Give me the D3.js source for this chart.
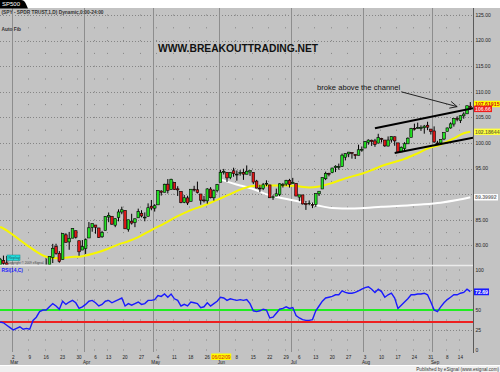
<!DOCTYPE html>
<html>
<head>
<meta charset="utf-8">
<script src="https://cdn.jsdelivr.net/npm/d3@7"></script>
<style>
  html, body { margin: 0; padding: 0; background: #fff; }
  svg { display: block; font-family: "Liberation Sans", Arial, sans-serif; }
</style>
</head>
<body>
<div id="chart"></div>
<script>
// trading days shown (2009)
const days = [
  "02-24","02-25","02-26","02-27",
  "03-02","03-03","03-04","03-05","03-06","03-09","03-10","03-11","03-12","03-13",
  "03-16","03-17","03-18","03-19","03-20","03-23","03-24","03-25","03-26","03-27",
  "03-30","03-31","04-01","04-02","04-03","04-06","04-07","04-08","04-09",
  "04-13","04-14","04-15","04-16","04-17","04-20","04-21","04-22","04-23","04-24",
  "04-27","04-28","04-29","04-30","05-01","05-04","05-05","05-06","05-07","05-08",
  "05-11","05-12","05-13","05-14","05-15","05-18","05-19","05-20","05-21","05-22",
  "05-26","05-27","05-28","05-29","06-01","06-02","06-03","06-04","06-05",
  "06-08","06-09","06-10","06-11","06-12","06-15","06-16","06-17","06-18","06-19",
  "06-22","06-23","06-24","06-25","06-26","06-29","06-30","07-01","07-02",
  "07-06","07-07","07-08","07-09","07-10","07-13","07-14","07-15","07-16","07-17",
  "07-20","07-21","07-22","07-23","07-24","07-27","07-28","07-29","07-30","07-31",
  "08-03","08-04","08-05","08-06","08-07","08-10","08-11","08-12","08-13","08-14",
  "08-17","08-18","08-19","08-20","08-21","08-24","08-25","08-26","08-27","08-28",
  "08-31","09-01","09-02","09-03","09-04","09-08","09-09","09-10","09-11",
  "09-14","09-15","09-16","09-17"
];

const open = [
  74.33,77.06,76.58,74.99,
  72.96,70.44,69.86,70.83,68.40,68.08,67.93,71.96,72.09,75.20,
  75.88,75.39,77.60,79.79,78.46,77.23,82.06,80.68,81.41,82.87,
  80.91,79.09,79.36,81.45,83.51,83.98,83.41,81.68,82.93,
  85.53,85.69,83.94,85.45,86.52,86.83,83.13,84.73,84.46,85.39,
  86.28,85.45,85.69,87.66,87.27,87.92,90.61,90.38,91.96,90.90,
  92.30,91.05,90.54,88.42,89.28,88.61,90.97,90.86,90.04,88.87,
  88.70,91.00,89.30,90.70,92.33,94.29,94.25,93.25,94.57,
  93.81,94.04,94.27,93.90,94.34,94.25,92.56,91.19,91.09,92.00,
  91.81,89.35,89.63,89.95,91.88,91.99,92.72,92.08,92.12,
  89.43,89.86,88.19,88.13,88.00,87.96,90.08,91.02,93.02,94.06,
  94.21,95.20,95.34,95.41,97.22,97.86,98.15,97.77,97.60,98.68,
  99.02,100.14,100.54,100.41,99.98,100.89,100.58,99.40,100.59,101.22,
  100.02,98.26,98.89,99.84,101.11,102.86,102.86,102.94,102.98,103.47,
  102.72,102.35,100.01,100.01,100.78,102.27,102.94,103.70,104.79,
  104.42,105.30,105.70,107.19
];
const high = [
  77.55,78.01,77.94,75.13,
  72.96,71.17,72.41,70.83,69.91,69.53,71.96,73.19,75.26,75.83,
  77.45,77.81,80.30,80.32,78.89,82.34,82.37,82.63,83.30,82.87,
  80.91,81.05,81.36,84.56,84.25,83.98,83.41,82.84,85.69,
  86.43,85.69,85.29,87.04,87.56,86.83,85.01,86.18,85.29,87.18,
  86.88,86.45,88.21,88.87,88.05,90.79,90.77,92.03,92.96,93.02,
  92.30,91.56,90.54,89.84,89.70,91.00,91.64,92.46,90.04,89.67,
  91.18,91.38,90.95,92.00,94.78,94.94,94.25,94.25,95.17,
  94.63,94.69,94.98,95.62,94.63,94.25,92.80,91.84,92.19,92.71,
  91.81,89.87,91.09,92.14,92.20,92.80,93.00,93.19,92.12,
  89.87,89.86,88.68,88.79,88.36,90.11,90.58,93.30,94.40,94.19,
  95.16,95.65,95.98,97.94,97.98,98.25,98.22,97.78,99.67,99.32,
  100.36,100.71,100.66,100.80,101.80,101.01,100.58,101.28,101.31,101.26,
  100.02,99.32,100.16,101.09,102.96,103.78,103.98,103.45,103.53,104.15,
  102.72,103.25,100.43,100.74,102.05,103.01,104.03,104.81,105.22,
  105.37,106.00,107.28,107.99
];
const low = [
  74.33,75.29,75.18,73.45,
  69.97,69.23,69.86,67.79,66.68,67.29,67.93,71.39,71.48,74.25,
  75.34,74.99,76.56,78.18,76.62,77.23,80.55,79.14,81.41,81.34,
  77.98,79.09,78.33,81.45,82.67,82.28,81.45,81.48,82.93,
  84.53,84.02,83.56,84.70,86.09,83.24,82.68,84.06,83.56,85.39,
  85.47,84.71,85.69,86.86,86.61,87.92,89.73,90.38,90.14,90.90,
  90.87,89.65,88.23,88.25,87.89,88.61,90.52,90.14,87.96,88.38,
  88.15,89.19,88.76,90.36,92.33,93.85,92.39,92.93,93.41,
  92.64,93.62,92.80,93.90,93.57,91.97,91.16,90.38,90.79,91.58,
  89.30,88.89,89.63,89.63,91.30,91.62,91.29,92.08,89.64,
  88.64,87.99,86.93,87.85,87.28,87.53,89.65,91.02,92.75,93.49,
  94.10,94.32,94.79,95.33,96.60,97.23,96.94,96.87,97.60,98.29,
  99.02,99.67,99.43,99.25,99.98,100.10,99.24,99.34,100.08,99.46,
  98.05,98.26,98.26,99.84,101.11,102.45,102.82,102.36,101.82,102.51,
  101.66,100.03,99.60,99.63,100.56,102.27,102.80,103.20,104.24,
  103.90,104.74,105.69,106.50
];
const close = [
  77.31,76.49,75.28,73.51,
  70.08,69.63,71.29,68.26,68.34,67.65,71.96,72.14,75.07,75.66,
  75.39,77.81,79.44,78.40,76.85,82.29,80.61,81.39,83.29,81.59,
  78.75,79.79,81.11,83.44,84.25,83.55,81.56,82.52,85.66,
  85.87,84.15,85.21,86.53,86.96,83.24,85.01,84.36,85.19,86.62,
  85.75,85.52,87.36,87.28,87.75,90.72,90.38,91.95,90.74,92.92,
  90.92,90.84,88.39,89.31,88.29,90.97,90.81,90.35,88.83,88.70,
  91.03,89.31,90.68,91.91,94.29,94.47,93.18,94.25,94.01,
  93.91,94.24,93.92,94.49,94.62,92.37,91.20,91.07,91.84,92.12,
  89.30,89.51,90.09,92.03,91.89,92.72,91.93,92.33,89.64,
  89.87,88.10,87.96,88.27,87.91,90.11,90.58,93.27,94.07,94.04,
  95.11,95.46,95.41,97.63,97.93,98.22,97.96,97.52,98.68,98.75,
  100.26,100.57,100.27,99.71,101.05,100.71,99.44,100.58,101.27,100.41,
  98.17,99.17,99.85,100.94,102.81,102.76,103.00,103.01,103.30,103.09,
  102.26,100.20,99.88,100.72,102.04,102.94,103.74,104.81,104.67,
  105.33,105.66,107.28,106.95
];

// RSI(14,C), one value per day
const rsi = [
  35,34,31,28,
  25,27,29,26,27,26,37,41,48,50,
  50,54,58,55,51,61,57,60,62,59,
  52,54,57,61,62,59,55,57,61,
  62,59,61,63,65,55,58,56,58,60,
  57,58,62,62,63,68,67,70,66,70,
  64,62,55,57,55,60,59,58,53,54,
  59,55,58,61,66,65,62,64,63,
  62,63,62,63,58,49,48,49,51,50,
  40,41,46,51,52,54,52,53,43,
  40,38,37,37,38,49,55,61,65,66,
  67,69,69,74,72,71,71,72,74,76,
  78,79,76,72,76,73,66,69,71,65,
  52,56,60,64,69,69,70,70,71,69,
  60,50,48,54,59,63,66,69,69,
  71,72,76,73
];

// moving averages
const maYellowDates = ["02-24","02-25","03-02","03-06","03-11","03-16","03-20","03-25","03-31",
  "04-06","04-13","04-16","04-21","04-24","04-30","05-06","05-12","05-18","05-22","05-29",
  "06-04","06-09","06-15","06-22","06-29","07-02","07-09","07-14","07-20","07-24","07-31",
  "08-05","08-10","08-14","08-19","08-25","08-28","09-03","09-10","09-15","09-17"];
const maYellowValues = [83.6,83.3,82.0,80.1,78.8,77.8,77.5,77.7,77.9,
  78.5,79.4,80.2,80.8,81.6,83.0,84.3,85.7,86.9,87.8,88.9,
  90.0,90.9,91.6,91.7,91.7,91.6,91.3,91.5,92.2,93.1,94.0,
  94.7,95.5,96.3,96.9,98.0,98.9,99.7,100.9,101.9,102.2];
const maWhiteDates = ["06-01","06-09","06-11","06-22","07-01","07-13","07-20","07-28",
  "08-03","08-10","08-18","08-26","09-03","09-11","09-17"];
const maWhiteValues = [92.9,91.7,91.4,89.8,88.8,87.9,87.3,87.2,
  87.3,87.55,87.75,88.0,88.35,88.85,89.4];

const priceTicks = [80, 85, 90, 95, 100, 105, 110, 115, 120, 125];
const rsiTicks = [0, 25, 50, 75, 100];
const rsiGreen = 50;
const rsiRed = 35;

// channel drawn by hand: [day, price] pairs, extended to the axis
const channelUpper = [["08-06", 102.87], ["09-17", 106.66]];
const channelLower = [["08-14", 98.05], ["09-17", 100.92]];
const arrowFrom = ["08-18", 110.0];
const arrowTo = ["09-11", 107.1];

// value tags on the right axis
const tagValues = [107.61915, 106.66, 102.18644, 89.39992];
const tagTexts = ["107.61915", "106.66", "102.18644", "89.39992"];
const rsiTag = 72.69;
const cursorDay = "06-02";

// ---- layout
const width = 500, height = 372;
const axisX = 473;
const priceTop = 8, priceBottom = 264.5;
const rsiTop = 266, rsiBottom = 352;

const svg = d3.select('#chart').append('svg')
  .attr('width', width)
  .attr('height', height);

const parse = d3.timeParse('%Y-%m-%d');
const dates = days.map(d => parse('2009-' + d));
const ix = d => days.indexOf(d);

const x = d3.scaleLinear().domain([0, days.length - 1]).range([0.15, 470.3]);
const step = x(1) - x(0);
const yP = d3.scaleLinear().domain([80, 125]).range([245.4, 15]);
const yR = d3.scaleLinear().domain([0, 100]).range([350, 270]);

// background
svg.append('rect').attr('width', width).attr('height', height).attr('fill', '#fff');
svg.append('rect').attr('x', 0).attr('y', priceTop).attr('width', width).attr('height', 365.5 - priceTop).attr('fill', '#c3c3c3');

// clips
const defs = svg.append('defs');
defs.append('clipPath').attr('id', 'clipP').append('rect')
  .attr('x', 0).attr('y', priceTop).attr('width', axisX).attr('height', priceBottom - priceTop);
defs.append('clipPath').attr('id', 'clipR').append('rect')
  .attr('x', 0).attr('y', rsiTop).attr('width', axisX).attr('height', rsiBottom - rsiTop);

// week and month starts
const weekStarts = [];
const monthStarts = [];
dates.forEach((d, i) => {
  if (i === 0) return;
  if (d.getDay() <= dates[i - 1].getDay()) weekStarts.push(i);
  if (d.getMonth() !== dates[i - 1].getMonth()) monthStarts.push(i);
});

const grid = svg.append('g');

// horizontal dotted grid
grid.selectAll('.hp')
  .data(priceTicks)
  .enter()
  .append('line')
  .attr('x1', 0).attr('x2', axisX)
  .attr('y1', d => Math.round(yP(d)) + 0.5).attr('y2', d => Math.round(yP(d)) + 0.5)
  .attr('stroke', '#858585').attr('stroke-dasharray', '1,2');

grid.selectAll('.hr')
  .data([25, 75])
  .enter()
  .append('line')
  .attr('x1', 0).attr('x2', axisX)
  .attr('y1', d => Math.round(yR(d)) + 0.5).attr('y2', d => Math.round(yR(d)) + 0.5)
  .attr('stroke', '#858585').attr('stroke-dasharray', '1,2');

// weekly dotted verticals
grid.selectAll('.vp')
  .data(weekStarts)
  .enter()
  .append('line')
  .attr('x1', i => Math.round(x(i) - step / 2) + 0.5)
  .attr('x2', i => Math.round(x(i) - step / 2) + 0.5)
  .attr('y1', yP(125) - 0.5).attr('y2', priceBottom)
  .attr('stroke', '#858585').attr('stroke-dasharray', '1,11.8');

grid.selectAll('.vr')
  .data(weekStarts)
  .enter()
  .append('line')
  .attr('x1', i => Math.round(x(i) - step / 2) + 0.5)
  .attr('x2', i => Math.round(x(i) - step / 2) + 0.5)
  .attr('y1', yR(100) - 0.5).attr('y2', rsiBottom)
  .attr('stroke', '#858585').attr('stroke-dasharray', '1,9');

// month lines
grid.selectAll('.mline')
  .data(monthStarts)
  .enter()
  .append('line')
  .attr('x1', i => Math.round(x(i) - step / 2) + 0.5)
  .attr('x2', i => Math.round(x(i) - step / 2) + 0.5)
  .attr('y1', priceTop).attr('y2', rsiBottom)
  .attr('stroke', '#8d8d8d').attr('stroke-width', 1);

// panel separator
svg.append('line')
  .attr('x1', 0).attr('x2', axisX).attr('y1', 265.5).attr('y2', 265.5)
  .attr('stroke', '#ebebeb').attr('stroke-width', 1.6);

// right axis line
svg.append('line')
  .attr('x1', axisX + 0.5).attr('x2', axisX + 0.5).attr('y1', priceTop).attr('y2', rsiBottom + 1)
  .attr('stroke', '#5a5a5a');

// ---- price panel
const pricePanel = svg.append('g').attr('clip-path', 'url(#clipP)');

const maLine = d3.line()
  .x(d => x(ix(d[0])))
  .y(d => yP(d[1]))
  .curve(d3.curveMonotoneX);

pricePanel.append('path')
  .datum(d3.zip(maWhiteDates, maWhiteValues))
  .attr('d', maLine)
  .attr('fill', 'none').attr('stroke', '#ffffff').attr('stroke-width', 2);

pricePanel.append('path')
  .datum(d3.zip(maYellowDates, maYellowValues))
  .attr('d', maLine)
  .attr('fill', 'none').attr('stroke', '#f6f600').attr('stroke-width', 2);

// candles
const candles = pricePanel.selectAll('.candle')
  .data(days.map((d, i) => i))
  .enter()
  .append('g')
  .attr('class', 'candle');

candles.append('line')
  .attr('x1', i => x(i)).attr('x2', i => x(i))
  .attr('y1', i => yP(high[i])).attr('y2', i => yP(low[i]))
  .attr('stroke', '#000').attr('stroke-width', 1);

candles.append('rect')
  .attr('x', i => x(i) - 1.3)
  .attr('width', 2.6)
  .attr('y', i => yP(Math.max(open[i], close[i])))
  .attr('height', i => Math.max(0.8, Math.abs(yP(open[i]) - yP(close[i]))))
  .attr('fill', i => close[i] >= open[i] ? '#22e022' : '#e01818')
  .attr('stroke', '#000').attr('stroke-width', 0.6);

// channel lines, extended to the axis
const extend = (pts) => {
  const x0 = x(ix(pts[0][0])), y0 = yP(pts[0][1]);
  const x1 = x(ix(pts[1][0])), y1 = yP(pts[1][1]);
  const s = (y1 - y0) / (x1 - x0);
  return [[x0, y0], [axisX, y0 + s * (axisX - x0)]];
};
[channelUpper, channelLower].forEach(c => {
  const p = extend(c);
  pricePanel.append('line')
    .attr('x1', p[0][0]).attr('y1', p[0][1]).attr('x2', p[1][0]).attr('y2', p[1][1])
    .attr('stroke', '#000').attr('stroke-width', 2);
});

// arrow and note
const ax0 = x(ix(arrowFrom[0])), ay0 = yP(arrowFrom[1]);
const ax1 = x(ix(arrowTo[0])), ay1 = yP(arrowTo[1]);
const ang = Math.atan2(ay1 - ay0, ax1 - ax0);
svg.append('line')
  .attr('x1', ax0).attr('y1', ay0).attr('x2', ax1).attr('y2', ay1)
  .attr('stroke', '#111').attr('stroke-width', 0.9);
[-0.45, 0.45].forEach(a => {
  svg.append('line')
    .attr('x1', ax1).attr('y1', ay1)
    .attr('x2', ax1 - 8 * Math.cos(ang + a)).attr('y2', ay1 - 8 * Math.sin(ang + a))
    .attr('stroke', '#111').attr('stroke-width', 0.9);
});
svg.append('text')
  .attr('x', ax0 - 1).attr('y', yP(110.35))
  .attr('text-anchor', 'end')
  .attr('font-size', 7.6).attr('fill', '#111')
  .text('broke above the channel');

// watermark
svg.append('text')
  .attr('x', 158).attr('y', 51.5)
  .attr('font-size', 10.3).attr('font-weight', 'bold').attr('fill', '#111')
  .text('WWW.BREAKOUTTRADING.NET');

// ---- RSI panel
const rsiPanel = svg.append('g').attr('clip-path', 'url(#clipR)');

rsiPanel.append('line')
  .attr('x1', 0).attr('x2', axisX).attr('y1', yR(rsiRed)).attr('y2', yR(rsiRed))
  .attr('stroke', '#ee2020').attr('stroke-width', 2);
rsiPanel.append('line')
  .attr('x1', 0).attr('x2', axisX).attr('y1', yR(rsiGreen)).attr('y2', yR(rsiGreen))
  .attr('stroke', '#20ee20').attr('stroke-width', 2);

rsiPanel.append('path')
  .datum(rsi)
  .attr('d', d3.line().x((d, i) => x(i)).y(d => yR(d)))
  .attr('fill', 'none').attr('stroke', '#1a1aff').attr('stroke-width', 1.4);

// ---- axes text (labels that sit under a value tag are left out, as on screen)
const axisText = svg.append('g').attr('font-size', 5).attr('fill', '#222');
const underTag = (py, tags) => tags.some(t => Math.abs(t - py) < 5.5);
const tagYs = tagValues.map(v => yP(v));

axisText.selectAll('.pl')
  .data(priceTicks.filter(d => !underTag(yP(d), tagYs)))
  .enter()
  .append('text')
  .attr('x', axisX + 2.5).attr('y', d => yP(d) + 1.8)
  .text(d => d3.format('.2f')(d));

axisText.selectAll('.rl')
  .data(rsiTicks.filter(d => !underTag(yR(d), [yR(rsiTag)])))
  .enter()
  .append('text')
  .attr('x', axisX + 2.5).attr('y', d => yR(d) + 1.8)
  .text(d => d);

const cx = x(ix(cursorDay)) - 2.5;

axisText.selectAll('.wl')
  .data(weekStarts.filter(i => x(i) > 5 && Math.abs(x(i) - cx) > 11))
  .enter()
  .append('text')
  .attr('x', i => x(i)).attr('y', 358.5)
  .attr('text-anchor', 'middle')
  .attr('font-size', 4.6)
  .text(i => dates[i].getDate());

axisText.selectAll('.ml')
  .data(monthStarts)
  .enter()
  .append('text')
  .attr('x', i => x(i) + 1).attr('y', 364.3)
  .attr('text-anchor', 'middle')
  .attr('font-size', 4.6)
  .text(i => d3.timeFormat('%b')(dates[i]));

// cursor date box
svg.append('rect')
  .attr('x', cx - 10).attr('y', 353.5).attr('width', 20).attr('height', 6.5)
  .attr('fill', '#ffff00');
svg.append('text')
  .attr('x', cx).attr('y', 358.6).attr('text-anchor', 'middle')
  .attr('font-size', 4.8).attr('fill', '#d01010')
  .text(d3.timeFormat('%m/%d/%y')(dates[ix(cursorDay)]));

// right value tags
const tagStyle = [
  { fill: '#ffff00', text: '#d01010', w: 26 },
  { fill: '#ee1c1c', text: '#ffd0d0', w: 18 },
  { fill: '#ffff40', text: '#777733', w: 26 },
  { fill: '#ffffff', text: '#777777', w: 24 }
];
tagValues.forEach((v, k) => {
  const ty = yP(v);
  svg.append('rect')
    .attr('x', axisX + 1).attr('y', ty - 3.2).attr('width', tagStyle[k].w).attr('height', 6.4)
    .attr('fill', tagStyle[k].fill);
  svg.append('text')
    .attr('x', axisX + 2).attr('y', ty + 1.9)
    .attr('font-size', 5.2).attr('font-weight', 'bold').attr('fill', tagStyle[k].text)
    .text(tagTexts[k]);
});
svg.append('rect')
  .attr('x', axisX + 1).attr('y', yR(rsiTag) - 3.4).attr('width', 15).attr('height', 6.8)
  .attr('fill', '#1a1aff');
svg.append('text')
  .attr('x', axisX + 2).attr('y', yR(rsiTag) + 1.9)
  .attr('font-size', 5.2).attr('font-weight', 'bold').attr('fill', '#fff')
  .text(rsiTag.toFixed(2));

// ---- header / labels
svg.append('path')
  .attr('d', 'M0,0 H21 Q24,0 25.5,3 L28,8.5 H0 Z')
  .attr('fill', '#000');
svg.append('text')
  .attr('x', 2).attr('y', 6.3)
  .attr('font-size', 6).attr('fill', '#fff')
  .text('SP500');

svg.append('text')
  .attr('x', 1.5).attr('y', 13.8)
  .attr('font-size', 4.8).attr('font-weight', 'bold').attr('fill', '#333')
  .text('(SPY - SPDR TRUST,1,D) Dynamic,0:00-24:00');

svg.append('text')
  .attr('x', 1.5).attr('y', 31)
  .attr('font-size', 4.8).attr('font-weight', 'bold').attr('fill', '#333')
  .text('Auto Fib');

svg.append('rect')
  .attr('x', 7).attr('y', 255).attr('width', 13).attr('height', 5.5)
  .attr('fill', '#22dddd').attr('stroke', '#118888').attr('stroke-width', 0.5);
svg.append('text')
  .attr('x', 8.5).attr('y', 259.3)
  .attr('font-size', 3.6).attr('fill', '#225555')
  .text('Replay');
svg.append('text')
  .attr('x', 7).attr('y', 264)
  .attr('font-size', 3.2).attr('fill', '#444')
  .text('Copyright \u00a9 2009 eSignal.');

svg.append('text')
  .attr('x', 1.5).attr('y', 272)
  .attr('font-size', 4.8).attr('font-weight', 'bold').attr('fill', '#1a1aff')
  .text('RSI(14,C)');

// footer strip
svg.append('rect')
  .attr('x', 0).attr('y', 365.5).attr('width', width).attr('height', 6.5)
  .attr('fill', '#f0f0f0');
svg.append('line')
  .attr('x1', 0).attr('x2', width).attr('y1', 365.5).attr('y2', 365.5)
  .attr('stroke', '#ffffff');
svg.append('text')
  .attr('x', 499).attr('y', 371)
  .attr('text-anchor', 'end')
  .attr('font-size', 4.6).attr('fill', '#333')
  .text('Published by eSignal (www.esignal.com)');
</script>
</body>
</html>
